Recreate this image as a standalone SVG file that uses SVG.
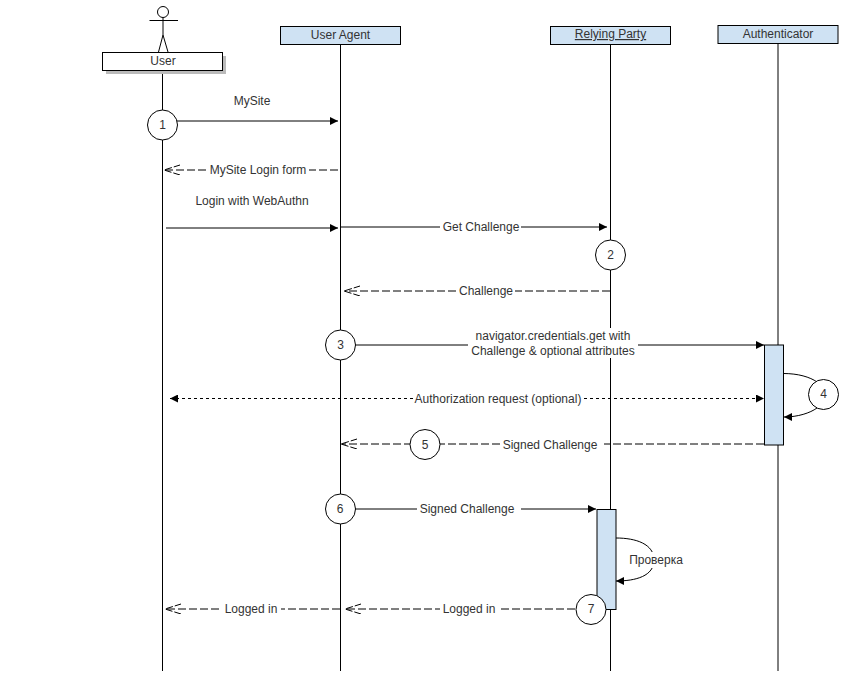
<svg xmlns="http://www.w3.org/2000/svg" width="863" height="691" viewBox="0 0 863 691">
<style>
text{font-family:"Liberation Sans",Arial,sans-serif;font-size:12px;fill:#333;text-anchor:middle}
.life{stroke:#000;stroke-width:1;fill:none}
.head{fill:#cfe2f3;stroke:#000;stroke-width:1}
.bar{fill:#cfe2f3;stroke:#000;stroke-width:1}
.msg{stroke:#000;stroke-width:1;fill:none;marker-end:url(#solid)}
.ret{stroke:#000;stroke-width:1;fill:none;stroke-dasharray:8 3;marker-end:url(#open)}
.opt{stroke:#000;stroke-width:1;fill:none;stroke-dasharray:3 3;marker-start:url(#solidBack);marker-end:url(#solid)}
.bg{fill:#fff}
.dot{fill:#fff;stroke:#000;stroke-width:1}
</style>
<defs>
<marker id="solid" markerUnits="userSpaceOnUse" markerWidth="10" markerHeight="10" refX="8" refY="4" orient="auto"><path d="M0 0L8 4L0 8Z" fill="#000"/></marker>
<marker id="solidBack" markerUnits="userSpaceOnUse" markerWidth="10" markerHeight="10" refX="0" refY="4" orient="auto"><path d="M8 0L0 4L8 8Z" fill="#000"/></marker>
<marker id="open" markerUnits="userSpaceOnUse" markerWidth="18" markerHeight="12" refX="16" refY="5" orient="auto"><path d="M0 0L16 5L0 10" fill="none" stroke="#000" stroke-dasharray="7 2"/></marker>
</defs>
<rect width="863" height="691" fill="#fff"/>

<g id="lifelines">
<path class="life" d="M162.500 70V671"/>
<path class="life" d="M340.500 44V671"/>
<path class="life" d="M610.500 44V671"/>
<path class="life" d="M778 43V671"/>
</g>

<g id="connectors">
<path class="msg" d="M177 121H338"/>
<path class="ret" d="M338 170H164"/>
<path class="msg" d="M166 228H338"/>
<path class="msg" d="M340 227H607"/>
<path class="ret" d="M610 291H344"/>
<path class="msg" d="M355 345H764"/>
<path class="opt" d="M170 398.500H764"/>
<path class="ret" d="M764 444H341"/>
<path class="msg" d="M355 509H596"/>
<path class="ret" d="M597 609H345"/>
<path class="ret" d="M340 609H165"/>
<path class="msg" d="M783.500 373.500C798 373.500 810 377 817 382M817 408C810 413 798 417 784 417"/>
<path class="msg" d="M616 538C636 538 654 544 654 560C654 576 636 581 616 581"/>
</g>

<g id="labels">
<rect class="bg" x="207" y="162" width="102" height="16"/><text x="258" y="174">MySite Login form</text>
<rect class="bg" x="440" y="219" width="81" height="16"/><text x="481" y="231">Get Challenge</text>
<rect class="bg" x="456" y="283" width="59" height="16"/><text x="486" y="295">Challenge</text>
<rect class="bg" x="468" y="328" width="170" height="30"/><text x="553" y="340">navigator.credentials.get with</text><text x="553" y="355">Challenge &amp; optional attributes</text>
<rect class="bg" x="413" y="391" width="171" height="16"/><text x="498" y="403">Authorization request (optional)</text>
<rect class="bg" x="501" y="437" width="103" height="16"/><text x="550" y="449">Signed Challenge</text>
<rect class="bg" x="417" y="501" width="104" height="16"/><text x="467" y="513">Signed Challenge</text>
<rect class="bg" x="222" y="601" width="59" height="16"/><text x="251" y="613">Logged in</text>
<rect class="bg" x="440" y="601" width="59" height="16"/><text x="469" y="613">Logged in</text>
<rect class="bg" x="629" y="552" width="54" height="16"/><text x="656" y="564">Проверка</text>
<text x="252" y="105">MySite</text>
<text x="252" y="205">Login with WebAuthn</text>
</g>

<g id="user">
<circle cx="163" cy="12" r="5.500" fill="#fff" stroke="#000"/>
<path d="M163 17.500V35M149.500 20.500H178M163 35L158.500 52M163 35L168 52" fill="none" stroke="#000"/>
<rect x="106" y="56" width="120" height="18" fill="#bbb"/>
<rect x="102.500" y="52.500" width="120" height="18" fill="#fff" stroke="#000"/>
<text x="163" y="65">User</text>
</g>
<g id="user-agent"><rect class="head" x="280.500" y="26.500" width="120" height="18"/><text x="340.500" y="39">User Agent</text></g>
<g id="relying-party"><rect class="head" x="550.500" y="26.500" width="120" height="18"/><text x="610.500" y="38" text-decoration="underline">Relying Party</text></g>
<g id="authenticator"><rect class="head" x="718" y="25.500" width="120" height="18"/><text x="778" y="38">Authenticator</text></g>

<g id="activation-authenticator"><rect class="bar" x="764.500" y="345" width="19" height="100"/></g>
<g id="activation-relying-party"><rect class="bar" x="597" y="509.500" width="19" height="100"/></g>

<g id="step-1"><circle class="dot" cx="162.500" cy="125" r="15"/><text x="162.500" y="129">1</text></g>
<g id="step-2"><circle class="dot" cx="610.500" cy="255" r="15"/><text x="610.500" y="259">2</text></g>
<g id="step-3"><circle class="dot" cx="340.500" cy="345" r="15"/><text x="340.500" y="349">3</text></g>
<g id="step-4"><circle class="dot" cx="823.500" cy="394.500" r="15"/><text x="823.500" y="398">4</text></g>
<g id="step-5"><circle class="dot" cx="425" cy="444.500" r="15"/><text x="425" y="449">5</text></g>
<g id="step-6"><circle class="dot" cx="340.500" cy="509" r="15"/><text x="340" y="513">6</text></g>
<g id="step-7"><circle class="dot" cx="591" cy="609.500" r="15"/><text x="591" y="613">7</text></g>
</svg>
